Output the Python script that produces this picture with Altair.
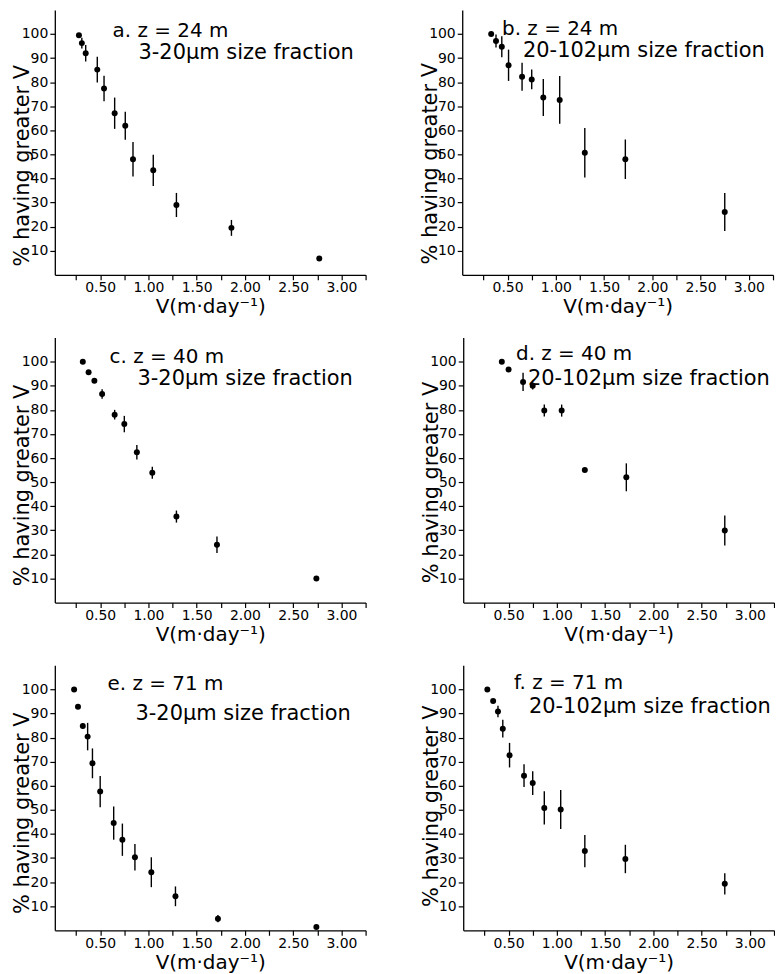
import altair as alt
import pandas as pd

# ---- data ----
v_a = [0.28, 0.31, 0.35, 0.47, 0.54, 0.65, 0.76, 0.84, 1.05, 1.29, 1.86, 2.77]
p_a = [99.5, 96.2, 92.0, 85.2, 77.4, 67.1, 61.9, 48.0, 43.4, 29.0, 19.5, 6.8]
e_a = [0.8, 2.2, 3.4, 5.3, 5.3, 6.5, 5.8, 7.2, 6.5, 5.0, 3.3, 0.8]

v_b = [0.33, 0.38, 0.44, 0.51, 0.65, 0.75, 0.87, 1.04, 1.30, 1.72, 2.75]
p_b = [100.0, 97.1, 94.7, 87.0, 82.2, 81.1, 73.6, 72.6, 50.7, 48.0, 26.1]
e_b = [0.5, 2.7, 4.4, 6.5, 5.8, 4.1, 7.7, 9.9, 10.3, 8.2, 7.9]

v_c = [0.32, 0.38, 0.44, 0.52, 0.65, 0.75, 0.88, 1.04, 1.29, 1.71, 2.74]
p_c = [100.0, 95.6, 92.1, 86.6, 78.0, 74.1, 62.4, 53.9, 35.7, 24.0, 10.0]
e_c = [0.5, 0.8, 1.0, 2.0, 2.0, 3.4, 3.0, 2.5, 2.5, 3.4, 0.5]

v_d = [0.43, 0.50, 0.65, 0.75, 0.87, 1.05, 1.29, 1.72, 2.74]
p_d = [100.0, 96.8, 91.6, 90.0, 79.7, 79.7, 55.0, 52.0, 29.9]
e_d = [0.5, 0.8, 3.8, 1.5, 2.5, 2.5, 0.5, 5.8, 6.2]

v_e = [0.23, 0.27, 0.32, 0.37, 0.42, 0.50, 0.64, 0.73, 0.86, 1.03, 1.28, 1.72, 2.74]
p_e = [100.0, 92.8, 84.8, 80.4, 69.3, 57.6, 44.5, 37.6, 30.3, 24.1, 14.1, 4.8, 1.4]
e_e = [0.5, 0.5, 1.0, 5.7, 6.2, 6.5, 6.9, 6.7, 5.5, 6.2, 4.1, 1.5, 0.5]

v_f = [0.28, 0.34, 0.39, 0.44, 0.51, 0.66, 0.75, 0.87, 1.04, 1.29, 1.71, 2.74]
p_f = [100.0, 95.2, 90.8, 83.7, 72.7, 64.2, 61.1, 50.8, 50.1, 32.9, 29.6, 19.3]
e_f = [0.5, 0.8, 2.4, 3.7, 5.1, 4.7, 4.9, 6.9, 8.1, 6.7, 5.9, 4.4]

panel_labels = ["a. z = 24 m", "b. z = 24 m", "c. z = 40 m",
                "d. z = 40 m", "e. z = 71 m", "f. z = 71 m"]
fraction_labels = ["3-20µm size fraction", "20-102µm size fraction",
                   "3-20µm size fraction", "20-102µm size fraction",
                   "3-20µm size fraction", "20-102µm size fraction"]

x_ticks = [0.25, 0.5, 0.75, 1.0, 1.25, 1.5, 1.75, 2.0, 2.25, 2.5, 2.75, 3.0, 3.25]
y_ticks = [10, 20, 30, 40, 50, 60, 70, 80, 90, 100]

x_title = "V(m·day⁻¹)"
y_title = "% having greater V"

FONT = "DejaVu Sans"
W, H = 312, 266


def panel(v, p, e, label, frac, lab_xy, frac_xy, title_y):
    df = pd.DataFrame({
        "v": v, "p": p,
        "lo": [pi - ei for pi, ei in zip(p, e)],
        "hi": [pi + ei for pi, ei in zip(p, e)],
    })
    xs = alt.Scale(domain=[0.03, 3.25], nice=False, zero=False)
    ys = alt.Scale(domain=[0, 110], nice=False)
    xax = alt.Axis(values=x_ticks, title=x_title, titleFontSize=20,
                   labelExpr="(datum.value*4) % 2 == 0 ? format(datum.value, '.2f') : ''",
                   labelPadding=1, titlePadding=2, labelFlush=False, labelOverlap=False)
    yax = alt.Axis(values=y_ticks, title=y_title, titleX=-22, titleY=title_y,
                   labelPadding=2)
    bars = alt.Chart(df).mark_rule(color="black", strokeWidth=1.4).encode(
        x=alt.X("v:Q", scale=xs, axis=xax),
        y=alt.Y("lo:Q", scale=ys, axis=yax),
        y2="hi:Q",
    )
    pts = alt.Chart(df).mark_circle(color="black", size=36, opacity=1).encode(
        x=alt.X("v:Q", scale=xs, axis=xax),
        y=alt.Y("p:Q", scale=ys, axis=yax),
    )
    t1 = alt.Chart(pd.DataFrame({"t": [label]})).mark_text(
        align="left", baseline="alphabetic", font=FONT, fontSize=20, color="black"
    ).encode(x=alt.value(lab_xy[0]), y=alt.value(lab_xy[1]), text="t:N")
    t2 = alt.Chart(pd.DataFrame({"t": [frac]})).mark_text(
        align="left", baseline="alphabetic", font=FONT, fontSize=21, color="black"
    ).encode(x=alt.value(frac_xy[0]), y=alt.value(frac_xy[1]), text="t:N")
    return alt.layer(bars, pts, t1, t2).properties(width=W, height=H)


pa = panel(v_a, p_a, e_a, panel_labels[0], fraction_labels[0], (58, 27), (84, 49), 156)
pb = panel(v_b, p_b, e_b, panel_labels[1], fraction_labels[1], (40, 25), (61, 47), 154)
pc = panel(v_c, p_c, e_c, panel_labels[2], fraction_labels[2], (55, 25), (83, 48), 148)
pd_ = panel(v_d, p_d, e_d, panel_labels[3], fraction_labels[3], (53, 22), (65, 48), 145)
pe = panel(v_e, p_e, e_e, panel_labels[4], fraction_labels[4], (53, 25), (81, 55), 148)
pf = panel(v_f, p_f, e_f, panel_labels[5], fraction_labels[5], (51, 24), (66, 48), 141)

row1 = alt.hconcat(pa, pb, spacing=53)
row2 = alt.hconcat(pc, pd_, spacing=53)
row3 = alt.hconcat(pe, pf, spacing=53)

chart = alt.vconcat(row1, row2, row3, spacing=21).properties(
    padding={"left": 3, "top": 0, "right": 0, "bottom": 0}, background="white"
).configure_view(strokeWidth=0).configure_axis(
    grid=False,
    domainColor="black", domainWidth=1.3,
    tickColor="black", tickWidth=1.2, tickSize=5,
    labelColor="black", labelFont=FONT, labelFontSize=14,
    titleColor="black", titleFont=FONT, titleFontSize=21, titleFontWeight="normal",
)

chart.save("out.html", embed_options={"renderer": "svg", "actions": False})
